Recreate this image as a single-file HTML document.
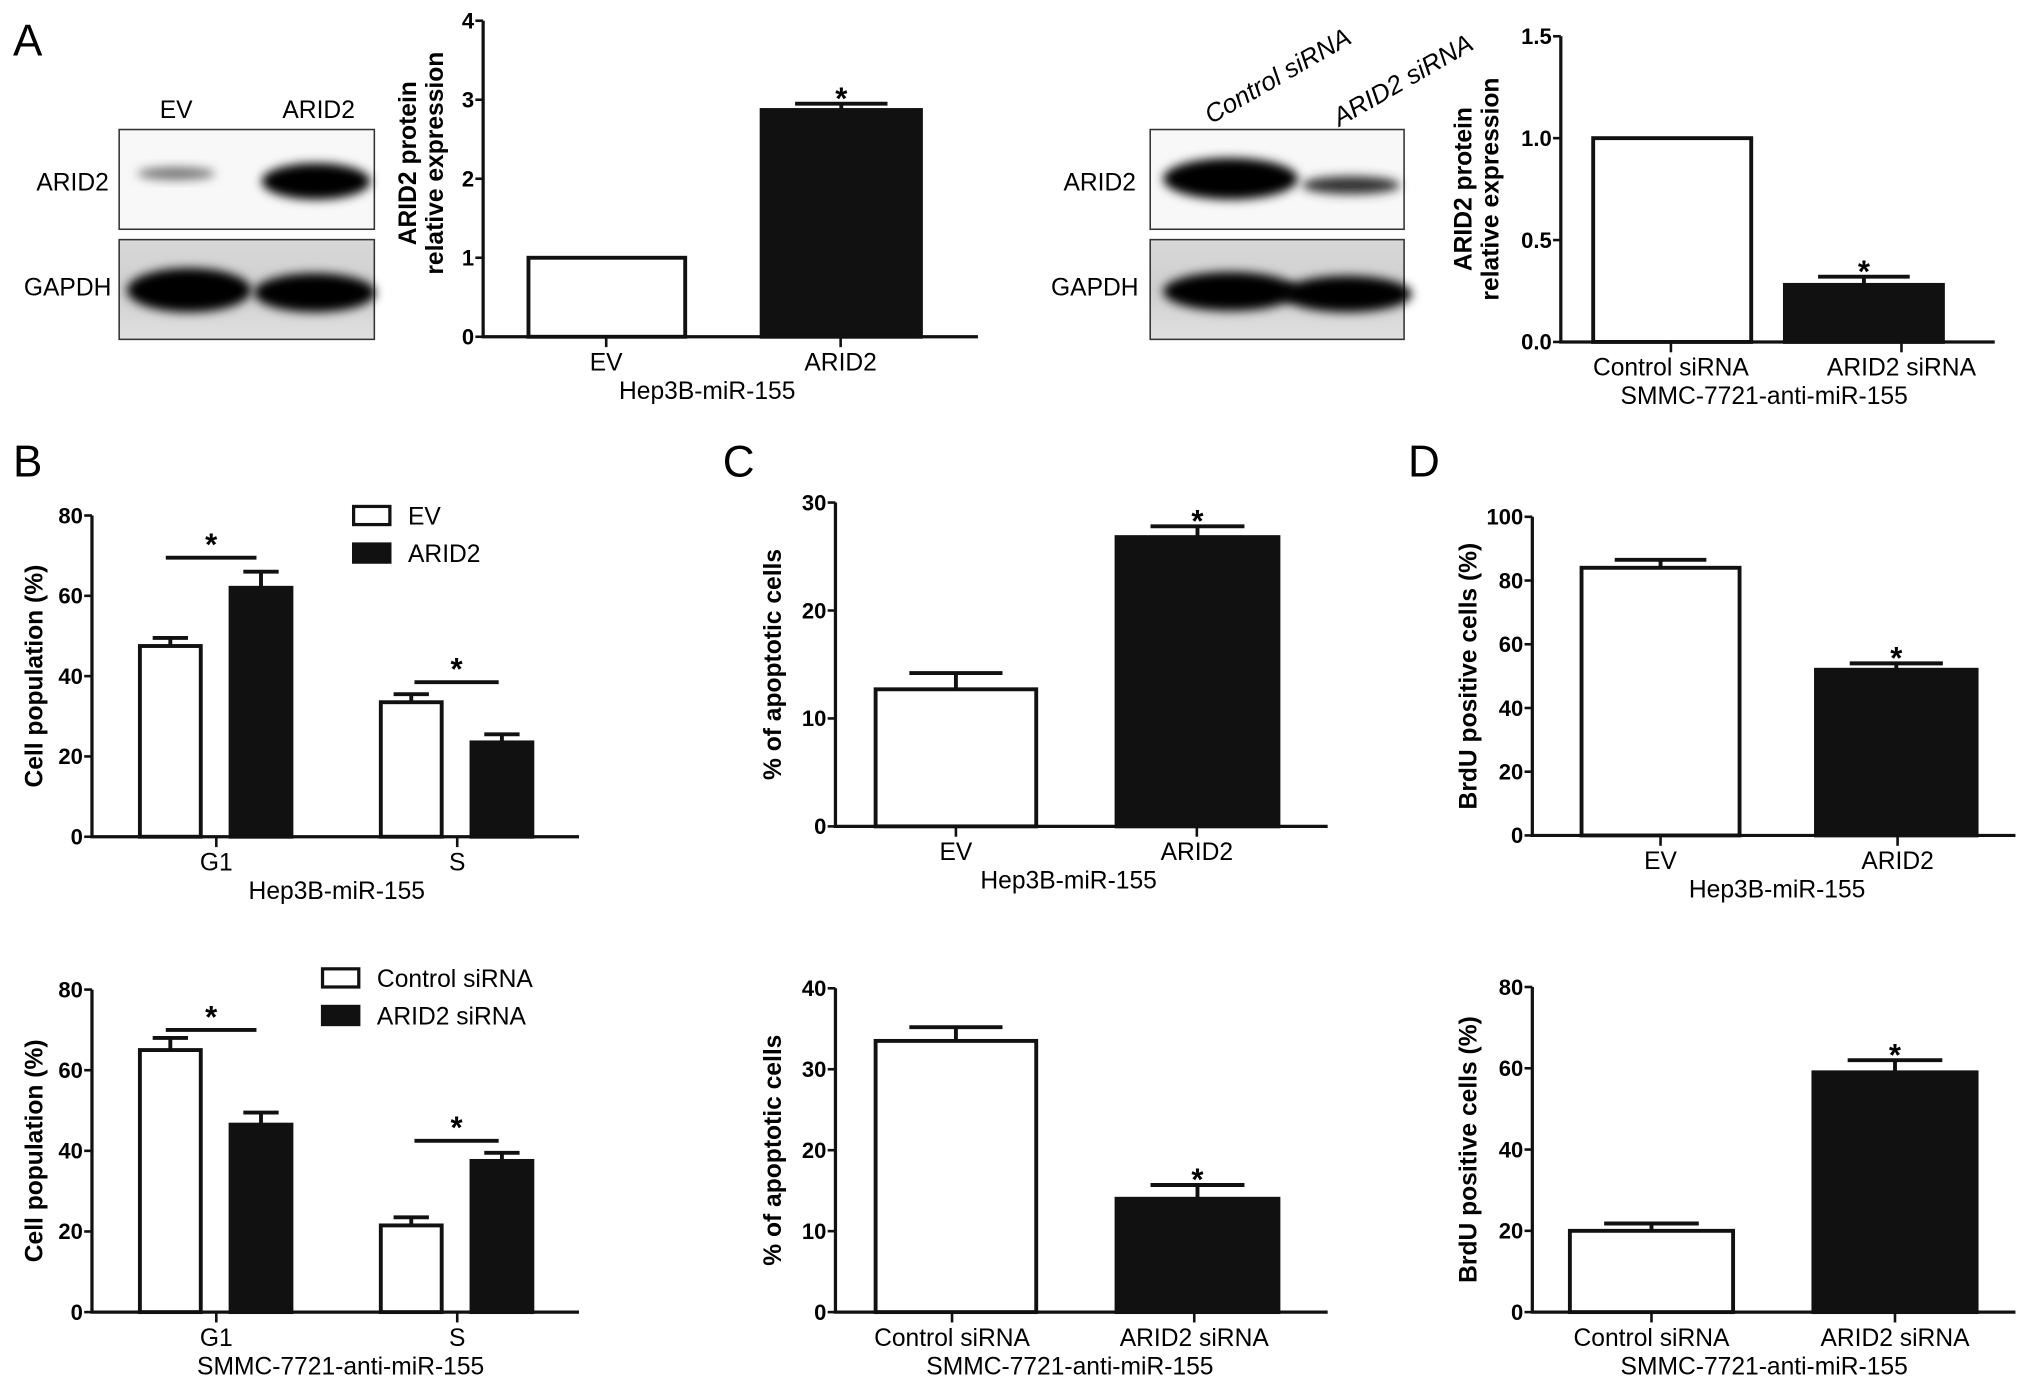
<!DOCTYPE html>
<html><head><meta charset="utf-8">
<style>
html,body{margin:0;padding:0;background:#fff;}
svg{display:block;font-family:"Liberation Sans",Arial,sans-serif;}
</style></head>
<body>
<svg id="fig" width="2031" height="1388" viewBox="0 0 1568 1071.6" preserveAspectRatio="none" xmlns="http://www.w3.org/2000/svg">
<defs>
<filter id="blur4" x="-30%" y="-60%" width="160%" height="220%"><feGaussianBlur stdDeviation="4"/></filter>
<linearGradient id="gbg" x1="0" y1="0" x2="0" y2="1"><stop offset="0" stop-color="#d8d8d8"/><stop offset="0.5" stop-color="#cfcfcf"/><stop offset="1" stop-color="#e0e0e0"/></linearGradient>
</defs>
<g id="static">
<text x="10" y="43" font-size="34">A</text>
<text x="10" y="368" font-size="34">B</text>
<text x="558" y="368" font-size="34">C</text>
<text x="1087" y="368" font-size="34">D</text>

<g>
<text x="136" y="91" font-size="19" text-anchor="middle">EV</text>
<text x="246" y="91" font-size="19" text-anchor="middle">ARID2</text>
<text x="84" y="147" font-size="19" text-anchor="end">ARID2</text>
<text x="86" y="228" font-size="19" text-anchor="end">GAPDH</text>
<rect x="92" y="100" width="197" height="77" fill="#f8f8f8" stroke="#333" stroke-width="1.2"/>
<ellipse cx="136" cy="134" rx="30" ry="5" fill="#777" filter="url(#blur4)"/>
<ellipse cx="244" cy="140" rx="42" ry="14" fill="#000" filter="url(#blur4)"/>
<rect x="92" y="185" width="197" height="77" fill="url(#gbg)" stroke="#333" stroke-width="1.2"/>
<ellipse cx="146" cy="224" rx="48" ry="17" fill="#000" filter="url(#blur4)"/>
<ellipse cx="243" cy="226" rx="47" ry="15" fill="#000" filter="url(#blur4)"/>
</g>
<g>
<text transform="translate(935,96) rotate(-30)" font-size="20" font-style="italic">Control siRNA</text>
<text transform="translate(1034,98) rotate(-30)" font-size="20" font-style="italic">ARID2 siRNA</text>
<text x="877" y="147" font-size="19" text-anchor="end">ARID2</text>
<text x="879" y="228" font-size="19" text-anchor="end">GAPDH</text>
<rect x="888" y="100" width="196" height="77" fill="#f8f8f8" stroke="#333" stroke-width="1.2"/>
<ellipse cx="950" cy="138" rx="52" ry="16" fill="#000" filter="url(#blur4)"/>
<ellipse cx="1043" cy="143" rx="38" ry="7" fill="#333" filter="url(#blur4)"/>
<rect x="888" y="185" width="196" height="77" fill="url(#gbg)" stroke="#333" stroke-width="1.2"/>
<ellipse cx="950" cy="225" rx="52" ry="15" fill="#000" filter="url(#blur4)"/>
<ellipse cx="1040" cy="227" rx="50" ry="14" fill="#000" filter="url(#blur4)"/>
</g>
</g>
<g id="charts"></g>
</svg>
<script>
const a1Categories = ["EV", "ARID2"];
const a1Values = [1.0, 2.87];
const a1Errors = [0.0, 0.08];
const a1Ticks = ["0","1","2","3","4"];

const a2Categories = ["Control siRNA", "ARID2 siRNA"];
const a2Values = [1.0, 0.28];
const a2Errors = [0.0, 0.04];
const a2Ticks = ["0.0","0.5","1.0","1.5"];

const bGroups = ["G1", "S"];
const b1EV = [47.5, 33.5];
const b1EVErr = [2, 2];
const b1ARID2 = [62, 23.5];
const b1ARID2Err = [4, 2];
const b2Control = [65, 21.5];
const b2ControlErr = [3, 2];
const b2ARID2 = [46.5, 37.5];
const b2ARID2Err = [3, 2];
const bTicks = ["0","20","40","60","80"];

const c1Values = [12.7, 26.8];
const c1Errors = [1.5, 1.0];
const c1Ticks = ["0","10","20","30"];
const c2Values = [33.5, 14.0];
const c2Errors = [1.7, 1.7];
const c2Ticks = ["0","10","20","30","40"];

const d1Values = [84, 52];
const d1Errors = [2.5, 2.0];
const d1Ticks = ["0","20","40","60","80","100"];
const d2Values = [20, 59];
const d2Errors = [1.8, 3.0];
const d2Ticks = ["0","20","40","60","80"];

const NS = "http://www.w3.org/2000/svg";
const root = document.getElementById("charts");
function mk(tag, attrs, parent) {
  const e = document.createElementNS(NS, tag);
  for (const k in attrs) e.setAttribute(k, attrs[k]);
  (parent || root).appendChild(e);
  return e;
}
function txt(str, attrs, parent) { const t = mk("text", attrs, parent); t.textContent = str; return t; }

function chart(cfg) {
  const g = mk("g", {});
  
  
  const max = parseFloat(cfg.ticks[cfg.ticks.length - 1]);
  const y = v => cfg.yBottom - (v / max) * (cfg.yBottom - cfg.yTop);
  cfg.bars.forEach((b) => {
    const r = mk("rect", { x: b.x1, y: y(b.v), width: b.x2 - b.x1, height: y(0) - y(b.v), fill: b.filled ? "#111" : "#fff", stroke: "#111", "stroke-width": 3 }, g);
    
    
    if (b.e > 0) {
      const cx = (b.x1 + b.x2) / 2, hw = (b.x2 - b.x1) * 0.29;
      const eb = mk("path", { d: `M${cx},${y(b.v)} V${y(b.v + b.e)} M${cx - hw},${y(b.v + b.e)} H${cx + hw}`, stroke: "#111", "stroke-width": 3, fill: "none" }, g);
      
      
    }
    if (b.star) {
      const s = txt("*", { x: (b.x1 + b.x2) / 2, y: y(b.v + b.e) + 4, "font-size": 24, "text-anchor": "middle", "font-weight": "bold" }, g);
      
      
    }
  });
  const ax = mk("path", { d: `M${cfg.axisX},${cfg.yTop} V${cfg.yBottom} H${cfg.axisEnd}`, stroke: "#111", "stroke-width": 2.5, fill: "none" }, g);
  
  
  cfg.ticks.forEach(t => {
    const v = parseFloat(t);
    mk("line", { x1: cfg.axisX - 6, x2: cfg.axisX, y1: y(v), y2: y(v), stroke: "#111", "stroke-width": 2 }, g);
    const tl = txt(t, { x: cfg.axisX - 7, y: y(v) + 6, "font-size": 17, "text-anchor": "end", "font-weight": "bold" }, g);
    
    
  });
  cfg.catCenters.forEach((cx, i) => {
    mk("line", { x1: cx, x2: cx, y1: cfg.yBottom, y2: cfg.yBottom + 8, stroke: "#111", "stroke-width": 2 }, g);
    const cl = txt(cfg.cats[i], { x: cx, y: cfg.yBottom + 26, "font-size": 19, "text-anchor": "middle" }, g);
    
    
  });
  const tt = txt(cfg.title, { x: cfg.titleX, y: cfg.yBottom + 48, "font-size": 19, "text-anchor": "middle" }, g);
  
  
  const yc = (cfg.yTop + cfg.yBottom) / 2 + (cfg.ytOff || 0);
  cfg.ytitle.forEach((line, i) => {
    const yt = txt(line, { transform: `translate(${cfg.ytitleX + i * 21},${yc}) rotate(-90)`, "font-size": 19, "font-weight": "bold", "text-anchor": "middle" }, g);
    
    
  });
  (cfg.sig || []).forEach(s => {
    const l = mk("line", { x1: s.x1, x2: s.x2, y1: y(s.v), y2: y(s.v), stroke: "#111", "stroke-width": 3 }, g);
    
    
    const st = txt("*", { x: (s.x1 + s.x2) / 2, y: y(s.v) - 2, "font-size": 24, "text-anchor": "middle", "font-weight": "bold" }, g);
    
    
  });
  if (cfg.legend) {
    cfg.legend.items.forEach((it, i) => {
      const ly = cfg.legend.y + i * 29;
      const r = mk("rect", { x: cfg.legend.x, y: ly - 7, width: 28, height: 14, fill: i ? "#111" : "#fff", stroke: "#111", "stroke-width": 2.5 }, g);
      
      
      const t = txt(it, { x: cfg.legend.x + 42, y: ly + 7, "font-size": 19 }, g);
      
      
    });
  }
}

chart({ name: "chart-a-hep3b", axisX: 373, axisEnd: 755, yTop: 16, yBottom: 260, ticks: a1Ticks,
  ytitle: ["ARID2 protein", "relative expression"], ytitleX: 321, ytOff: -12,
  catCenters: [468, 649], cats: a1Categories, title: "Hep3B-miR-155", titleX: 546,
  bars: [{ id: "ev", x1: 408, x2: 529, v: a1Values[0], e: a1Errors[0] },
         { id: "arid2", x1: 588, x2: 711, v: a1Values[1], e: a1Errors[1], filled: true, star: true }] });
chart({ name: "chart-a-smmc", axisX: 1205, axisEnd: 1540, yTop: 28, yBottom: 264, ticks: a2Ticks,
  ytitle: ["ARID2 protein", "relative expression"], ytitleX: 1136, ytOff: 0,
  catCenters: [1290, 1468], cats: a2Categories, title: "SMMC-7721-anti-miR-155", titleX: 1362,
  bars: [{ id: "control", x1: 1230, x2: 1352, v: a2Values[0], e: a2Errors[0] },
         { id: "arid2-sirna", x1: 1378, x2: 1500, v: a2Values[1], e: a2Errors[1], filled: true, star: true }] });
chart({ name: "chart-b-hep3b", axisX: 71, axisEnd: 447, yTop: 398, yBottom: 646, ticks: bTicks,
  ytitle: ["Cell population (%)"], ytitleX: 33,
  catCenters: [167, 353], cats: bGroups, title: "Hep3B-miR-155", titleX: 260,
  bars: [{ id: "ev-g1", x1: 108, x2: 155, v: b1EV[0], e: b1EVErr[0] },
         { id: "arid2-g1", x1: 178, x2: 225, v: b1ARID2[0], e: b1ARID2Err[0], filled: true },
         { id: "ev-s", x1: 294, x2: 341, v: b1EV[1], e: b1EVErr[1] },
         { id: "arid2-s", x1: 364, x2: 411, v: b1ARID2[1], e: b1ARID2Err[1], filled: true }],
  sig: [{ x1: 128, x2: 198, v: 69.5 }, { x1: 320, x2: 385, v: 38.5 }],
  legend: { x: 273, y: 398, items: ["EV", "ARID2"] } });
chart({ name: "chart-b-smmc", axisX: 71, axisEnd: 447, yTop: 764, yBottom: 1013, ticks: bTicks,
  ytitle: ["Cell population (%)"], ytitleX: 33,
  catCenters: [167, 353], cats: bGroups, title: "SMMC-7721-anti-miR-155", titleX: 263,
  bars: [{ id: "control-g1", x1: 108, x2: 155, v: b2Control[0], e: b2ControlErr[0] },
         { id: "arid2-sirna-g1", x1: 178, x2: 225, v: b2ARID2[0], e: b2ARID2Err[0], filled: true },
         { id: "control-s", x1: 294, x2: 341, v: b2Control[1], e: b2ControlErr[1] },
         { id: "arid2-sirna-s", x1: 364, x2: 411, v: b2ARID2[1], e: b2ARID2Err[1], filled: true }],
  sig: [{ x1: 128, x2: 198, v: 70 }, { x1: 320, x2: 385, v: 42.5 }],
  legend: { x: 249, y: 755, items: ["Control siRNA", "ARID2 siRNA"] } });
chart({ name: "chart-c-hep3b", axisX: 645, axisEnd: 1025, yTop: 388, yBottom: 638, ticks: c1Ticks,
  ytitle: ["% of apoptotic cells"], ytitleX: 603,
  catCenters: [738, 924], cats: a1Categories, title: "Hep3B-miR-155", titleX: 825,
  bars: [{ id: "ev", x1: 676, x2: 800, v: c1Values[0], e: c1Errors[0] },
         { id: "arid2", x1: 862, x2: 987, v: c1Values[1], e: c1Errors[1], filled: true, star: true }] });
chart({ name: "chart-c-smmc", axisX: 645, axisEnd: 1025, yTop: 763, yBottom: 1013, ticks: c2Ticks,
  ytitle: ["% of apoptotic cells"], ytitleX: 603,
  catCenters: [735, 922], cats: a2Categories, title: "SMMC-7721-anti-miR-155", titleX: 826,
  bars: [{ id: "control", x1: 676, x2: 800, v: c2Values[0], e: c2Errors[0] },
         { id: "arid2-sirna", x1: 862, x2: 987, v: c2Values[1], e: c2Errors[1], filled: true, star: true }] });
chart({ name: "chart-d-hep3b", axisX: 1183, axisEnd: 1556, yTop: 399, yBottom: 645, ticks: d1Ticks,
  ytitle: ["BrdU positive cells (%)"], ytitleX: 1140,
  catCenters: [1282, 1465], cats: a1Categories, title: "Hep3B-miR-155", titleX: 1372,
  bars: [{ id: "ev", x1: 1221, x2: 1343, v: d1Values[0], e: d1Errors[0] },
         { id: "arid2", x1: 1402, x2: 1526, v: d1Values[1], e: d1Errors[1], filled: true, star: true }] });
chart({ name: "chart-d-smmc", axisX: 1183, axisEnd: 1556, yTop: 762, yBottom: 1013, ticks: d2Ticks,
  ytitle: ["BrdU positive cells (%)"], ytitleX: 1140,
  catCenters: [1275, 1463], cats: a2Categories, title: "SMMC-7721-anti-miR-155", titleX: 1362,
  bars: [{ id: "control", x1: 1212, x2: 1338, v: d2Values[0], e: d2Errors[0] },
         { id: "arid2-sirna", x1: 1400, x2: 1526, v: d2Values[1], e: d2Errors[1], filled: true, star: true }] });
</script>
</body></html>
